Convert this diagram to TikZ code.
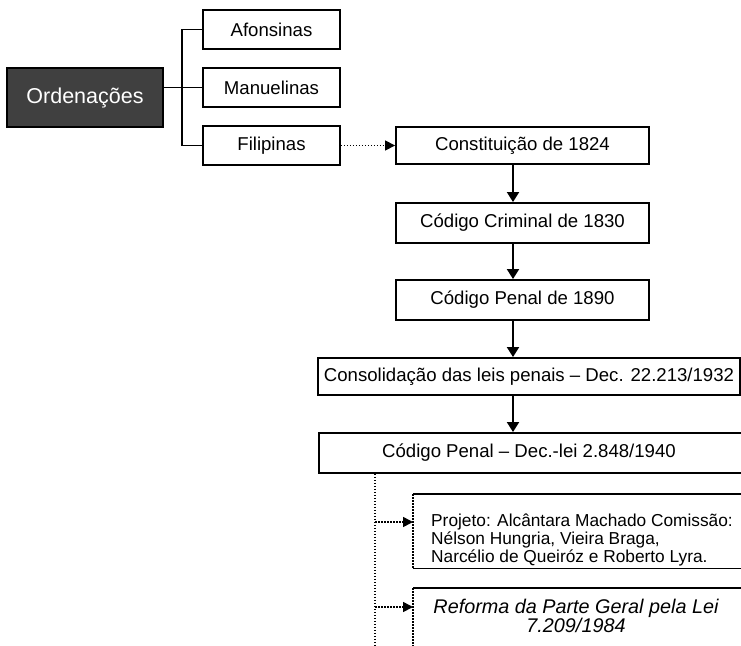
\documentclass[tikz,border=0pt]{standalone}
\usepackage{fontspec}
\setmainfont{Liberation Sans}
\usetikzlibrary{arrows.meta}
\begin{document}
\begin{tikzpicture}[x=1pt,y=-1pt,
  box/.style={draw=black, line width=1.9pt, fill=white, inner sep=0pt,
    font=\fontsize{18.6}{22}\selectfont},
  darkbox/.style={box, fill=black!75, text=white,
    font=\fontsize{21.5}{24}\selectfont},
  link/.style={line width=1.9pt, line join=miter},
  flow/.style={line width=1.9pt, -{Triangle[length=10pt,width=12pt]}},
  dotline/.style={line width=1.6pt, dash pattern=on 1.5pt off 1.5pt},
  dotlink/.style={dotline, -{Triangle[length=10pt,width=10pt]}},
  rule/.style={line width=1.4pt},
  plain/.style={inner sep=0pt, font=\fontsize{18.6}{22}\selectfont},
]
\clip (0,0) rectangle (741,645);
\fill[white] (0,0) rectangle (741,645);

% Ordenações and its three branches
\node[darkbox, minimum width=156pt, minimum height=59pt] (ord) at (85,97.5) {Ordenações};
\node[box, minimum width=137pt, minimum height=39pt] (afo) at (271.5,29.5) {Afonsinas};
\node[box, minimum width=137pt, minimum height=39pt] (man) at (271.5,87.5) {Manuelinas};
\node[box, minimum width=137pt, minimum height=39pt] (fil) at (271.5,145.5) {Filipinas};

\coordinate (fork) at (182,0);
\draw[link] (ord.east |- man) -- (man.west);
\draw[link] (afo.west) -| (fork |- fil) -- (fil.west);

% main chain
\node[box, minimum width=253pt, minimum height=37pt] (con) at (522.5,145.5) {Constituição de 1824};
\node[box, minimum width=253pt, minimum height=40pt] (ccr) at (522.5,223) {Código Criminal de 1830};
\node[box, minimum width=253pt, minimum height=40pt] (cp90) at (522.5,300) {Código Penal de 1890};
\node[box, minimum width=422pt, minimum height=37pt] (cons) at (529,376.5) {Consolidação das leis penais – Dec. 22.213/1932};
\node[box, minimum width=480pt, minimum height=40pt, anchor=west] (cp40) at (318,453) {};
\node[plain] (cp40text) at (529,453) {Código Penal – Dec.-lei 2.848/1940};

\draw[dotlink] (fil.east) -- (con.west);

\coordinate (spine) at (513,0);
\draw[flow] (con.south -| spine) -- (ccr.north -| spine);
\draw[flow] (ccr.south -| spine) -- (cp90.north -| spine);
\draw[flow] (cp90.south -| spine) -- (cons.north -| spine);
\draw[flow] (cons.south -| spine) -- (cp40.north -| spine);

% open boxes below
\node[anchor=north west, minimum width=400pt, minimum height=74pt, inner sep=0pt] (proj) at (413,494) {};
\draw[rule] (proj.north east) -- (proj.north west);
\draw[rule] (proj.south west) -- (proj.south east);
\draw[dotline] (proj.north west) -- (proj.south west);
\node[anchor=west, align=left, inner sep=0pt, font=\fontsize{17.3}{18}\selectfont] (projtext) at (431,539.5)
  {Projeto: Alcântara Machado Comissão:\\Nélson Hungria, Vieira Braga,\\Narcélio de Queiróz e Roberto Lyra.};

\node[anchor=north west, minimum width=400pt, minimum height=80pt, inner sep=0pt] (ref) at (413,588) {};
\draw[rule] (ref.north east) -- (ref.north west);
\draw[dotline] (ref.north west) -- (ref.south west);
\node[align=center, inner sep=0pt, font=\fontsize{19.8}{19}\itshape] (reftext) at (576,616)
  {Reforma da Parte Geral pela Lei\\7.209/1984};

% dotted branch from the 1940 code
\coordinate (drop) at (375,0);
\coordinate (dropend) at (375,645);
\coordinate (projin) at ([yshift=-28pt]proj.north west);
\coordinate (refin) at ([yshift=-19pt]ref.north west);
\draw[dotline] (cp40.south -| drop) -- (dropend);
\draw[dotlink] (drop |- projin) -- (projin);
\draw[dotlink] (drop |- refin) -- (refin);
\end{tikzpicture}
\end{document}
